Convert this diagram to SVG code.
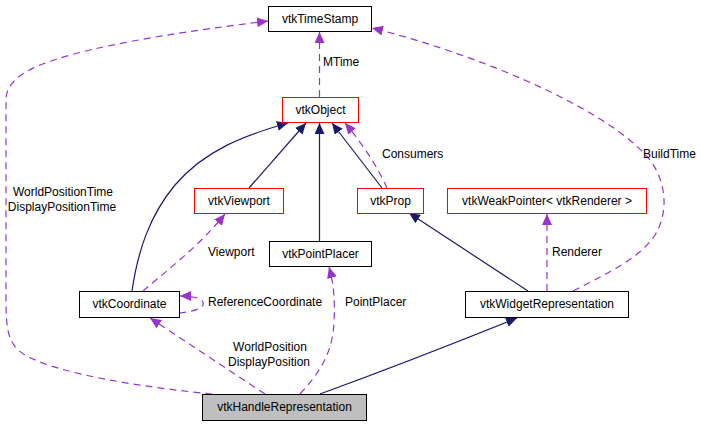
<svg xmlns="http://www.w3.org/2000/svg" width="701" height="427" viewBox="0 0 701 427">
<style>
text{font-family:"Liberation Sans",Arial,sans-serif;font-size:12px;fill:#000}
.n text{text-anchor:middle}
.red{fill:#fff;stroke:#ff0000;stroke-width:1}
.blk{fill:#fff;stroke:#000;stroke-width:1}
.cur{fill:#bfbfbf;stroke:#000;stroke-width:1}
.inh{fill:none;stroke:#191970;stroke-width:1.2;marker-end:url(#an)}
.use{fill:none;stroke:#9a32cd;stroke-width:1.2;stroke-dasharray:7,5;marker-end:url(#ap)}
.lbl{text-anchor:start}
.mid{text-anchor:middle}
</style>
<defs>
<marker id="an" markerUnits="userSpaceOnUse" markerWidth="12" markerHeight="11" refX="11" refY="5" orient="auto" viewBox="0 0 12 11"><path d="M0,0 L11,5 L0,10 z" fill="#191970"/></marker>
<marker id="ap" markerUnits="userSpaceOnUse" markerWidth="12" markerHeight="11" refX="11" refY="5" orient="auto" viewBox="0 0 12 11"><path d="M0,0 L11,5 L0,10 z" fill="#9a32cd"/></marker>
</defs>
<rect width="701" height="427" fill="#fff"/>
<g id="connectors">
<path class="use" d="M319.5,97 L319.5,32"/>
<path class="inh" d="M249,188 L306,123"/>
<path class="inh" d="M132,291 C138,250 150,215 175,185 C205,150 245,135 288,123"/>
<path class="inh" d="M319.5,241 L319.5,123"/>
<path class="inh" d="M382,188 L332,123"/>
<path class="use" d="M387,188 C380,172 366,148 345,123"/>
<path class="inh" d="M528,291 L409,213"/>
<path class="use" d="M547,291 L547,214"/>
<path class="use" d="M573,291 C610,272 640,258 655,235 C670,210 665,180 650,160 C610,110 480,55 372,28"/>
<path class="use" d="M212,394 C150,388 60,375 25,355 C8,345 6,330 6,300 L6,100 C6,75 40,62 90,50 C150,36 220,27 268,21"/>
<path class="use" d="M265,394 L150,318"/>
<path class="use" d="M300,394 C318,374 332,356 334,323 C335,300 334,285 329,267"/>
<path class="inh" d="M320,394 C380,372 450,345 517,318"/>
<path class="use" d="M143,291 C170,268 200,245 225,214"/>
<path class="use" d="M179,313 C190,312 200,310 203,305 C205,299 195,296 180,296"/>
</g>
<g id="labels">
<text class="lbl" x="323" y="66">MTime</text>
<text class="lbl" x="382" y="158">Consumers</text>
<text class="lbl" x="643" y="158">BuildTime</text>
<text class="lbl" x="552" y="256">Renderer</text>
<text class="lbl" x="208" y="256">Viewport</text>
<text class="lbl" x="208" y="306">ReferenceCoordinate</text>
<text class="lbl" x="345" y="306">PointPlacer</text>
<text class="mid" x="270" y="351">WorldPosition</text>
<text class="mid" x="269" y="366">DisplayPosition</text>
<text class="mid" x="63" y="196">WorldPositionTime</text>
<text class="mid" x="62" y="211">DisplayPositionTime</text>
</g>
<g id="vtkTimeStamp" class="n"><rect class="blk" x="268.5" y="6.5" width="103" height="25"/><text x="320" y="23">vtkTimeStamp</text></g>
<g id="vtkObject" class="n"><rect class="red" x="282.5" y="97.5" width="76" height="25"/><text x="320.5" y="114">vtkObject</text></g>
<g id="vtkViewport" class="n"><rect class="red" x="194.5" y="188.5" width="89" height="25"/><text x="239" y="205">vtkViewport</text></g>
<g id="vtkProp" class="n"><rect class="red" x="357.5" y="188.5" width="66" height="25"/><text x="390.5" y="205">vtkProp</text></g>
<g id="vtkWeakPointer" class="n"><rect class="red" x="447.5" y="188.5" width="199" height="25"/><text x="547" y="205">vtkWeakPointer&lt; vtkRenderer &gt;</text></g>
<g id="vtkPointPlacer" class="n"><rect class="blk" x="269.5" y="241.5" width="102" height="25"/><text x="320.5" y="258">vtkPointPlacer</text></g>
<g id="vtkCoordinate" class="n"><rect class="blk" x="79.5" y="291.5" width="100" height="26"/><text x="129.5" y="308">vtkCoordinate</text></g>
<g id="vtkWidgetRepresentation" class="n"><rect class="blk" x="465.5" y="291.5" width="163" height="26"/><text x="547" y="308">vtkWidgetRepresentation</text></g>
<g id="vtkHandleRepresentation" class="n"><rect class="cur" x="202.5" y="394.5" width="164" height="26"/><text x="284.5" y="411">vtkHandleRepresentation</text></g>
</svg>
